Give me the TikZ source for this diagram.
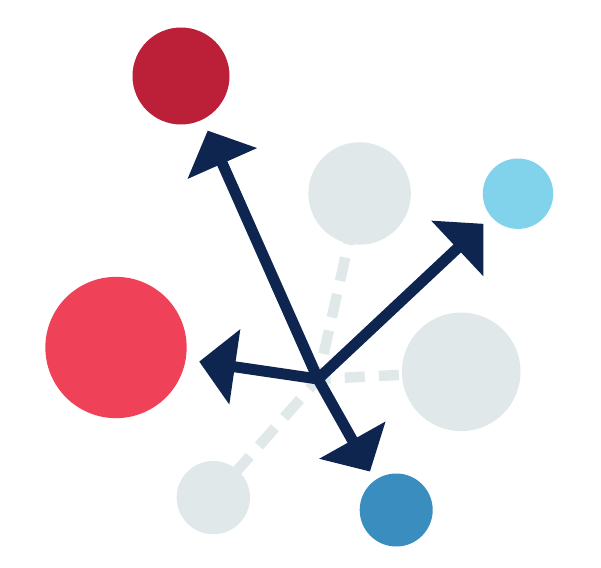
\documentclass[tikz,border=0pt]{standalone}
\usetikzlibrary{arrows.meta,backgrounds}

\definecolor{navy}{RGB}{14,37,79}
\definecolor{wine}{RGB}{188,31,56}
\definecolor{rose}{RGB}{239,65,87}
\definecolor{mist}{RGB}{224,232,234}
\definecolor{sky}{RGB}{128,211,235}
\definecolor{ocean}{RGB}{57,141,191}

\tikzset{every picture/.style={line width=0.75pt}}

\begin{document}
\begin{tikzpicture}[x=1pt,y=1pt,yscale=-1,xscale=1,
  ball/.style={circle,inner sep=0pt,minimum size=#1},
  link/.style={draw=mist,line width=10.5pt},
  spoke/.style={draw=navy,line width=11pt,line cap=round,
    -{Triangle[length=36pt,width=74pt]}}]

%set diagram frame
\useasboundingbox (0,0) rectangle (601,567);

% Hub and arrow ends
\coordinate (hub) at (318,379);
\coordinate (tipWine) at (207.7,130.6);
\coordinate (tipSky) at (483.5,223.8);
\coordinate (tipRose) at (199.2,361.6);
\coordinate (tipOcean) at (370,471.5);

% Circles
\node [ball=97pt, fill=wine] (wine) at (181,76) {};
\node [ball=102.5pt, fill=mist] (greytop) at (359.6,193.5) {};
\node [ball=70.4pt, fill=sky] (sky) at (518,193.7) {};
\node [ball=141.3pt, fill=rose] (rose) at (116,347.5) {};
\node [ball=118.6pt, fill=mist] (greyright) at (461.2,371.8) {};
\node [ball=73.3pt, fill=mist] (greysmall) at (213.3,497.6) {};
\node [ball=73pt, fill=ocean] (ocean) at (396.2,510) {};

% Dashed links, behind the grey circles
\begin{scope}[on background layer]
\draw [link, dash pattern=on 24pt off 13.4pt, dash phase=9.2pt] (greytop.center) -- (hub);
\draw [link, dash pattern=on 20pt off 14.2pt, dash phase=6pt] (greyright.center) -- (hub);
\draw [link, dash pattern=on 24pt off 14pt, dash phase=7pt] (greysmall.center) -- (hub);
\end{scope}

% Arrows
\draw [spoke] (hub) -- (tipWine);
\draw [spoke] (hub) -- (tipSky);
\draw [spoke] (hub) -- (tipRose);
\draw [spoke] (hub) -- (tipOcean);

\end{tikzpicture}
\end{document}
